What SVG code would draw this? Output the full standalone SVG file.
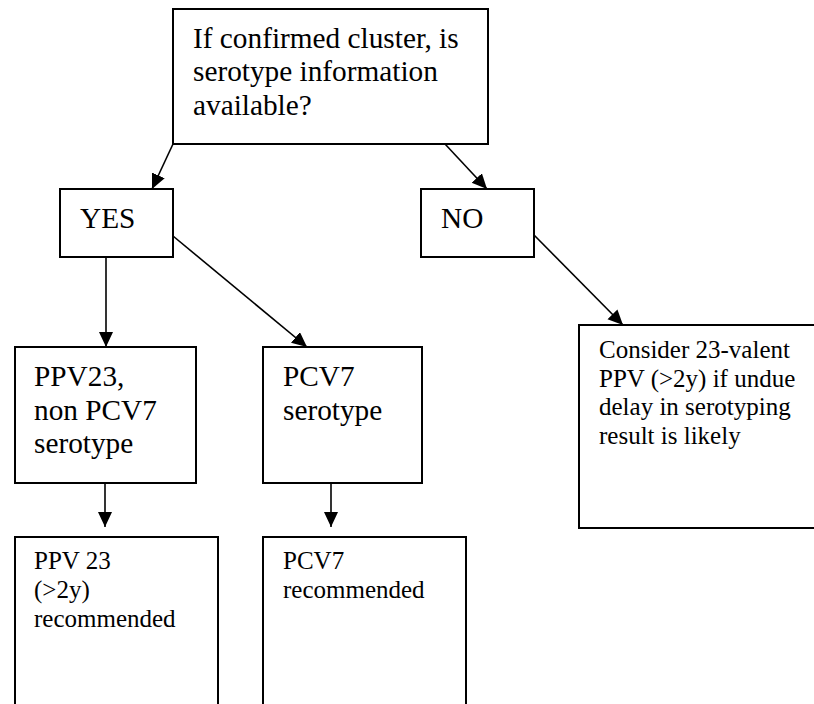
<svg xmlns="http://www.w3.org/2000/svg" width="814" height="704" viewBox="0 0 814 704">
<style>
.box{fill:#fff;stroke:#000;stroke-width:2}
.big{font-family:"Liberation Serif","Times New Roman",serif;font-size:29.3px;fill:#000}
.sm{font-family:"Liberation Serif","Times New Roman",serif;font-size:25px;fill:#000}
.conn line{stroke:#000;stroke-width:1.6;fill:none;marker-end:url(#ah)}
</style>
<defs>
<marker id="ah" markerUnits="userSpaceOnUse" markerWidth="16" markerHeight="15" refX="15" refY="7" orient="auto">
<path d="M0,0 L15,7 L0,14 z" fill="#000"/>
</marker>
</defs>
<rect width="814" height="704" fill="#fff"/>
<g id="q" font-family="Liberation Serif, serif">
<rect class="box" x="173" y="9" width="315" height="135"/>
<text class="big" x="193" y="47.5">If confirmed cluster, is</text>
<text class="big" x="193" y="81.2">serotype information</text>
<text class="big" x="193" y="114.9">available?</text>
</g>
<g id="yes" font-family="Liberation Serif, serif">
<rect class="box" x="60" y="189" width="113" height="68"/>
<text class="big" x="80" y="228">YES</text>
</g>
<g id="no" font-family="Liberation Serif, serif">
<rect class="box" x="421" y="189" width="113" height="68"/>
<text class="big" x="441" y="228">NO</text>
</g>
<g id="ppv23" font-family="Liberation Serif, serif">
<rect class="box" x="15" y="347" width="181" height="136"/>
<text class="big" x="34" y="386">PPV23,</text>
<text class="big" x="34" y="420">non PCV7</text>
<text class="big" x="34" y="453">serotype</text>
</g>
<g id="pcv7" font-family="Liberation Serif, serif">
<rect class="box" x="263" y="347" width="159" height="136"/>
<text class="big" x="283" y="386">PCV7</text>
<text class="big" x="283" y="420">serotype</text>
</g>
<g id="consider" font-family="Liberation Serif, serif">
<rect class="box" x="579" y="325" width="250" height="203"/>
<text class="sm" x="599" y="358">Consider 23-valent</text>
<text class="sm" x="599" y="387">PPV (&gt;2y) if undue</text>
<text class="sm" x="599" y="415">delay in serotyping</text>
<text class="sm" x="599" y="444">result is likely</text>
</g>
<g id="rec-ppv" font-family="Liberation Serif, serif">
<rect class="box" x="15" y="537" width="203" height="180"/>
<text class="sm" x="34" y="569">PPV 23</text>
<text class="sm" x="34" y="598">(&gt;2y)</text>
<text class="sm" x="34" y="627">recommended</text>
</g>
<g id="rec-pcv" font-family="Liberation Serif, serif">
<rect class="box" x="263" y="537" width="203" height="180"/>
<text class="sm" x="283" y="569">PCV7</text>
<text class="sm" x="283" y="598">recommended</text>
</g>
<g id="connectors" class="conn">
<line x1="173" y1="144" x2="152" y2="189"/>
<line x1="445" y1="144" x2="487" y2="189"/>
<line x1="106" y1="257" x2="106" y2="347"/>
<line x1="173" y1="236" x2="307" y2="347"/>
<line x1="534" y1="235" x2="623" y2="325"/>
<line x1="105" y1="483" x2="105" y2="527"/>
<line x1="331" y1="483" x2="331" y2="527"/>
</g>
</svg>
